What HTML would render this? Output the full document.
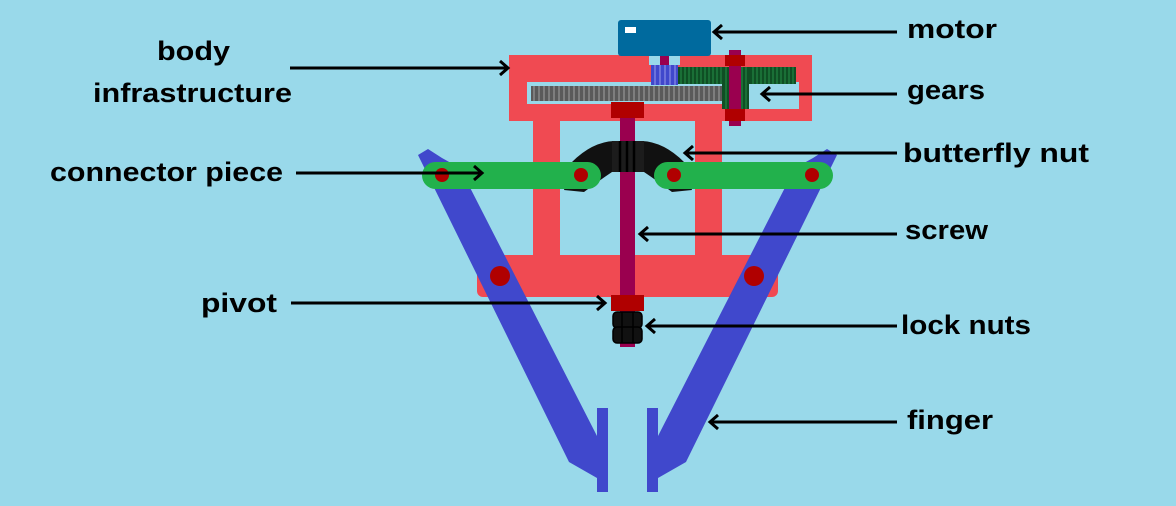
<!DOCTYPE html>
<html><head><meta charset="utf-8"><style>html,body{margin:0;padding:0;background:#99d9ea;}svg{display:block}</style></head><body>
<svg width="1176" height="506" viewBox="0 0 1176 506" xmlns="http://www.w3.org/2000/svg">
<rect width="1176" height="506" fill="#99d9ea"/>
<path d="M509,55 H649 V65 H680 V55 H812 V121 H509 Z M527,82 V104 H722 V109 H799 V82 Z" fill="#f04a52" fill-rule="evenodd"/>
<rect x="533" y="120" width="27" height="140" fill="#f04a52"/>
<rect x="695" y="120" width="27" height="140" fill="#f04a52"/>
<rect x="477" y="255" width="301" height="42" rx="6" fill="#f04a52"/>
<rect x="477" y="255" width="301" height="20" fill="#f04a52"/>
<rect x="531" y="86" width="191" height="15" fill="#5a5a5a"/>
<g stroke="#8a8a8a" stroke-width="1.5">
<path d="M534,86V101M539,86V101M544,86V101M549,86V101M554,86V101M559,86V101M564,86V101M569,86V101M574,86V101M579,86V101M584,86V101M589,86V101M594,86V101M599,86V101M604,86V101M609,86V101M614,86V101M619,86V101M624,86V101M629,86V101M634,86V101M639,86V101M644,86V101M649,86V101M654,86V101M659,86V101M664,86V101M669,86V101M674,86V101M679,86V101M684,86V101M689,86V101M694,86V101M699,86V101M704,86V101M709,86V101M714,86V101M719,86V101"/>
</g>
<rect x="660" y="50" width="9" height="16" fill="#9a004f"/>
<rect x="651" y="65" width="27" height="20" fill="#4048cc"/>
<path d="M655,65V85M660,65V85M665,65V85M670,65V85M675,65V85" stroke="#7a80e0" stroke-width="1.5"/>
<rect x="678" y="67" width="118" height="17" fill="#0f4f24"/>
<rect x="722" y="67" width="27" height="42" fill="#0f4f24"/>
<path d="M681,67V84M685,67V84M689,67V84M693,67V84M697,67V84M701,67V84M705,67V84M709,67V84M713,67V84M717,67V84M721,67V84M753,67V84M757,67V84M761,67V84M765,67V84M769,67V84M773,67V84M777,67V84M781,67V84M785,67V84M789,67V84M793,67V84M726,67V109M730,67V109M734,67V109M738,67V109M742,67V109M746,67V109" stroke="#1f7a3c" stroke-width="1.5"/>
<rect x="729" y="50" width="12" height="76" fill="#9a004f"/>
<rect x="725" y="55" width="20" height="11" fill="#b00000"/>
<rect x="725" y="109" width="20" height="12" fill="#b00000"/>
<rect x="618" y="20" width="93" height="36" rx="3" fill="#006a9e"/>
<rect x="625" y="27" width="11" height="6" fill="#fff"/>
<rect x="620" y="102" width="15" height="245" fill="#9a004f"/>
<rect x="611" y="102" width="33" height="16" fill="#b00000"/>
<rect x="611" y="295" width="33" height="16" fill="#b00000"/>
<rect x="613" y="312" width="29" height="16" rx="4" fill="#111" stroke="#000" stroke-width="1.5"/>
<rect x="613" y="327" width="29" height="16" rx="4" fill="#111" stroke="#000" stroke-width="1.5"/>
<path d="M622,312V343M633,312V343" stroke="#000" stroke-width="1.5"/>
<path d="M572,162 Q592,142 614,141 L642,141 Q664,142 684,162 L692,190 L672,192 Q656,180 644,172 L612,172 Q600,180 584,192 L564,190 Z" fill="#111"/>
<rect x="612" y="141" width="32" height="31" fill="#1c1c1c"/>
<path d="M620,141V172M627,141V172M634,141V172" stroke="#000" stroke-width="2.5"/>
<polygon points="418,155 428,149 442,158 460,168 597,436 597,408 608,408 608,492 597,492 597,478 569,462" fill="#4048cc"/>
<polygon points="837,155 827,149 813,158 795,168 658,436 658,408 647,408 647,492 658,492 658,478 686,462" fill="#4048cc"/>
<rect x="422" y="162" width="179" height="27" rx="13.5" fill="#22b14c"/>
<rect x="654" y="162" width="179" height="27" rx="13.5" fill="#22b14c"/>
<g fill="#b00000">
<circle cx="442" cy="175" r="7"/><circle cx="581" cy="175" r="7"/><circle cx="674" cy="175" r="7"/><circle cx="812" cy="175" r="7"/>
<circle cx="500" cy="276" r="10"/><circle cx="754" cy="276" r="10"/>
</g>
<g stroke="#000" stroke-width="3" fill="none">
<path d="M290,68H508M500,61L508,68L500,75"/>
<path d="M897,32H714M722,25L714,32L722,39"/>
<path d="M897,94H762M770,87L762,94L770,101"/>
<path d="M897,153H685M693,146L685,153L693,160"/>
<path d="M296,173H482M474,166L482,173L474,180"/>
<path d="M897,234H640M648,227L640,234L648,241"/>
<path d="M291,303H605M597,296L605,303L597,310"/>
<path d="M897,326H647M655,319L647,326L655,333"/>
<path d="M897,422H710M718,415L710,422L718,429"/>
</g>
<g font-family="Liberation Sans, sans-serif" font-weight="bold" font-size="27" fill="#000">
<text x="907" y="38" textLength="90" lengthAdjust="spacingAndGlyphs">motor</text>
<text x="157" y="60" textLength="73" lengthAdjust="spacingAndGlyphs">body</text>
<text x="93" y="102" textLength="199" lengthAdjust="spacingAndGlyphs">infrastructure</text>
<text x="907" y="99" textLength="78" lengthAdjust="spacingAndGlyphs">gears</text>
<text x="903" y="162" textLength="186" lengthAdjust="spacingAndGlyphs">butterfly nut</text>
<text x="50" y="181" textLength="233" lengthAdjust="spacingAndGlyphs">connector piece</text>
<text x="905" y="239" textLength="83" lengthAdjust="spacingAndGlyphs">screw</text>
<text x="201" y="312" textLength="76" lengthAdjust="spacingAndGlyphs">pivot</text>
<text x="901" y="334" textLength="130" lengthAdjust="spacingAndGlyphs">lock nuts</text>
<text x="907" y="429" textLength="86" lengthAdjust="spacingAndGlyphs">finger</text>
</g>
</svg>
</body></html>
